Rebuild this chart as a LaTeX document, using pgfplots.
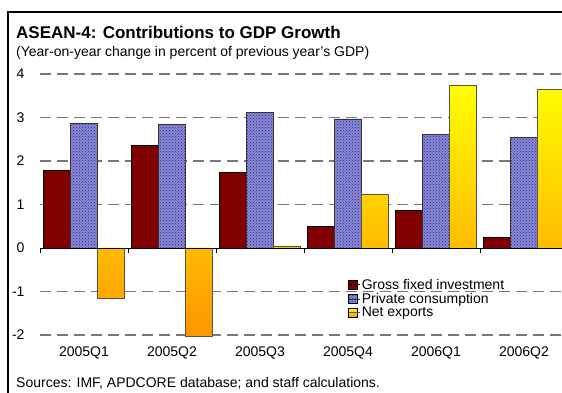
\documentclass[border=0pt]{standalone}
\usepackage{pgfplots}
\pgfplotsset{compat=1.18}
\usepackage{fontspec}
\setmainfont{Liberation Sans}
\usetikzlibrary{patterns}
\definecolor{gfi}{RGB}{128,0,0}
\definecolor{pcfill}{RGB}{135,135,210}
\definecolor{pcb}{RGB}{40,40,150}
\definecolor{nxtop}{RGB}{255,255,0}
\definecolor{nxbot}{RGB}{255,150,0}
\definecolor{gridc}{RGB}{120,120,120}
\begin{document}
\begin{tikzpicture}[x=1pt,y=1pt]
\useasboundingbox (0,0) rectangle (562,393);
\fill[white] (0,0) rectangle (562,393);
\draw[black,line width=1.2pt] (8,-10) -- (8,381) -- (580,381);
\node[anchor=base west,font=\fontsize{17}{20}\selectfont\bfseries,inner sep=0pt] at (16,354) {ASEAN-4: Contributions to GDP Growth};
\node[anchor=base west,font=\fontsize{14}{16}\selectfont,inner sep=0pt] at (16,336) {(Year-on-year change in percent of previous year's GDP)};
\node[anchor=base west,font=\fontsize{14}{16}\selectfont,inner sep=0pt] at (16,5) {Sources: IMF, APDCORE database; and staff calculations.};
\begin{axis}[
  at={(40pt,58pt)}, anchor=south west,
  scale only axis, width=528pt, height=261pt,
  xmin=-0.5, xmax=5.5, ymin=-2, ymax=4,
  clip=false,
  ybar=0pt, bar width=27pt,
  axis line style={draw=none},
  xtick={0,1,2,3,4,5},
  xticklabels={2005Q1,2005Q2,2005Q3,2005Q4,2006Q1,2006Q2},
  major tick length=0pt,
  ytick={-2,-1,0,1,2,3,4},
  yticklabels={-2,-1,0,1,2,3,4},
  tick label style={font=\fontsize{14}{16}\selectfont},
  yticklabel style={anchor=east, xshift=-12pt},
  xticklabel style={anchor=north, yshift=-8pt},
  legend style={at={(axis cs:3.0,-0.66)}, anchor=north west, draw=none, fill=none,
    font=\fontsize{14}{15}\selectfont, inner sep=0pt, row sep=-1.5pt,
    legend cell align=left},
  legend image code/.code={\draw[#1,draw=black,line width=0.6pt] (0pt,-4.5pt) rectangle (9pt,4.5pt); \path (0pt,0pt) -- (11pt,0pt);},
]
\foreach \yy in {-2,-1,1,2,3,4} {
  \edef\temp{\noexpand\draw[gridc,line width=1.3pt,dash pattern=on 11pt off 6pt] (axis cs:-0.5,\yy) -- (axis cs:5.5,\yy);}
  \temp
}
\addplot[fill=gfi, draw=black, line width=0.6pt] coordinates {(0,1.78) (1,2.36) (2,1.73) (3,0.50) (4,0.86) (5,0.25)};
\addplot[fill=pcfill, postaction={pattern=crosshatch dots, pattern color=pcb}, draw=black!80, line width=0.6pt] coordinates {(0,2.87) (1,2.85) (2,3.12) (3,2.97) (4,2.62) (5,2.54)};
\addplot[top color=nxtop, bottom color=nxbot, draw=black!75!yellow, line width=0.6pt] coordinates {(0,-1.15) (1,-2.03) (2,0.05) (3,1.23) (4,3.74) (5,3.64)};
\legend{Gross fixed investment, Private consumption, Net exports}
\draw[black,line width=0.8pt] (axis cs:-0.5,0) -- (axis cs:5.5,0);
\foreach \xx in {-0.5,0.5,1.5,2.5,3.5,4.5} {
  \edef\temp{\noexpand\draw[black,line width=0.8pt] (axis cs:\xx,0) -- ++(0pt,-5pt);}
  \temp
}
\end{axis}
\end{tikzpicture}
\end{document}
